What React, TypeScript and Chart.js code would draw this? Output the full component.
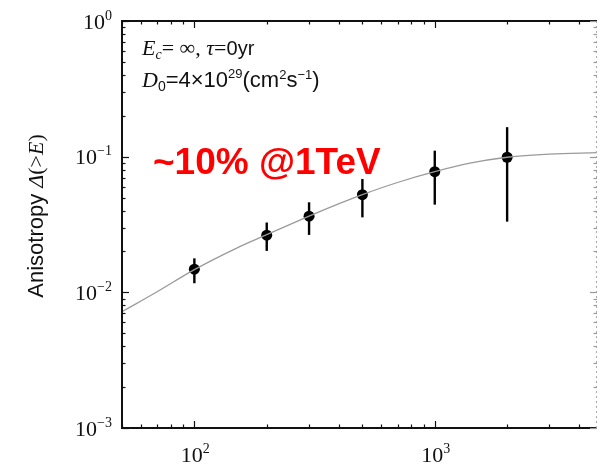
import React, { useEffect, useRef } from "react";
import { Chart, registerables } from "chart.js";

Chart.register(...registerables);

// ---- data ----
const energies = [100, 200, 300, 500, 1000, 2000];
const anisotropy = [0.0148, 0.0264, 0.0364, 0.0525, 0.0775, 0.099];
const errLow = [0.01167, 0.0202, 0.0265, 0.0357, 0.0443, 0.0332];
const errHigh = [0.0178, 0.0327, 0.0461, 0.0685, 0.1107, 0.165];

const curveEnergies = [50, 70, 100, 150, 200, 300, 400, 500, 700, 1000, 1400, 2000, 3000, 4730];
const curveAnisotropy = [0.0072, 0.0101, 0.0147, 0.0212, 0.0266, 0.0364, 0.045, 0.0525, 0.0645, 0.0775, 0.0895, 0.099, 0.1045, 0.107];

const xMin = 50;
const xMax = 4730;
const yMin = 1e-3;
const yMax = 1;
const xMajorExps = [2, 3];
const yMajorExps = [-3, -2, -1, 0];

const annotation = "~10% @1TeV";
const yTitleMain = "Anisotropy ";

type Run = { text: string; font: string; dy?: number };

function drawRuns(ctx: CanvasRenderingContext2D, runs: Run[], x: number, y: number, draw = true): number {
  let cx = x;
  for (const r of runs) {
    ctx.font = r.font;
    if (draw) ctx.fillText(r.text, cx, y + (r.dy || 0));
    cx += ctx.measureText(r.text).width;
  }
  return cx - x;
}

const SERIF = '"Liberation Serif", "Times New Roman", serif';
const SANS = '"Liberation Sans", Arial, sans-serif';

const powRuns = (exp: number): Run[] => [
  { text: "10", font: `22px ${SERIF}` },
  { text: exp < 0 ? "\u2212" + Math.abs(exp) : String(exp), font: `14px ${SERIF}`, dy: -9 },
];

const decorPlugin = {
  id: "decor",
  beforeDatasetsDraw(chart: any) {
    const { ctx, scales } = chart;
    const xs = scales.x;
    const ys = scales.y;
    ctx.save();
    ctx.strokeStyle = "#000";
    ctx.lineWidth = 2.4;
    energies.forEach((e, i) => {
      const px = xs.getPixelForValue(e);
      ctx.beginPath();
      ctx.moveTo(px, ys.getPixelForValue(errLow[i]));
      ctx.lineTo(px, ys.getPixelForValue(errHigh[i]));
      ctx.stroke();
    });
    ctx.restore();
  },
  afterDraw(chart: any) {
    const { ctx, scales, chartArea } = chart;
    const xs = scales.x;
    const ys = scales.y;
    const { left, right, top, bottom } = chartArea;
    ctx.save();
    // frame
    ctx.strokeStyle = "#111";
    ctx.lineWidth = 2;
    ctx.beginPath();
    ctx.moveTo(right, top);
    ctx.lineTo(left, top);
    ctx.lineTo(left, bottom);
    ctx.lineTo(right, bottom);
    ctx.stroke();
    ctx.strokeStyle = "#aaa";
    ctx.lineWidth = 1;
    ctx.setLineDash([2, 3]);
    ctx.beginPath();
    ctx.moveTo(right - 0.5, top);
    ctx.lineTo(right - 0.5, bottom);
    ctx.stroke();
    ctx.setLineDash([]);

    // ticks
    ctx.strokeStyle = "#111";
    ctx.lineWidth = 1.2;
    for (let d = 1; d <= 3; d++) {
      for (let m = 1; m <= 9; m++) {
        const v = m * Math.pow(10, d);
        if (v < xMin || v > xMax) continue;
        const px = Math.round(xs.getPixelForValue(v)) + 0.5;
        const len = m === 1 ? 7 : 3.5;
        ctx.beginPath();
        ctx.moveTo(px, bottom);
        ctx.lineTo(px, bottom - len);
        ctx.moveTo(px, top);
        ctx.lineTo(px, top + len);
        ctx.stroke();
      }
    }
    for (let d = -3; d <= 0; d++) {
      for (let m = 1; m <= 9; m++) {
        const v = m * Math.pow(10, d);
        if (v < yMin || v > yMax) continue;
        const py = Math.round(ys.getPixelForValue(v)) + 0.5;
        const len = m === 1 ? 7 : 3.5;
        ctx.strokeStyle = "#111";
        ctx.beginPath();
        ctx.moveTo(left, py);
        ctx.lineTo(left + len, py);
        ctx.stroke();
        ctx.strokeStyle = "#999";
        ctx.beginPath();
        ctx.moveTo(right, py);
        ctx.lineTo(right - len, py);
        ctx.stroke();
      }
    }

    // tick labels
    ctx.fillStyle = "#111";
    ctx.textBaseline = "alphabetic";
    ctx.textAlign = "left";
    yMajorExps.forEach((e) => {
      const py = ys.getPixelForValue(Math.pow(10, e));
      const runs = powRuns(e);
      const w = drawRuns(ctx, runs, 0, 0, false);
      drawRuns(ctx, runs, 112 - w, py + 7.5);
    });
    xMajorExps.forEach((e) => {
      const px = xs.getPixelForValue(Math.pow(10, e));
      const runs = powRuns(e);
      const w = drawRuns(ctx, runs, 0, 0, false);
      drawRuns(ctx, runs, px - w / 2 + 1, 462);
    });

    // y title
    ctx.save();
    ctx.translate(37, 216);
    ctx.rotate(-Math.PI / 2);
    const titleRuns: Run[] = [
      { text: yTitleMain, font: `22px ${SANS}` },
      { text: "\u0394", font: `italic 22px ${SERIF}` },
      { text: "(>", font: `22px ${SERIF}` },
      { text: "E", font: `italic 22px ${SERIF}` },
      { text: ")", font: `22px ${SERIF}` },
    ];
    const tw = drawRuns(ctx, titleRuns, 0, 0, false);
    ctx.textBaseline = "middle";
    drawRuns(ctx, titleRuns, -tw / 2, 0);
    ctx.restore();

    // inset text
    ctx.textBaseline = "alphabetic";
    ctx.fillStyle = "#111";
    drawRuns(ctx, [
      { text: "E", font: `italic 22px ${SERIF}` },
      { text: "c", font: `italic 14px ${SERIF}`, dy: 4 },
      { text: "= \u221E, ", font: `22px ${SERIF}` },
      { text: "\u03C4", font: `italic 22px ${SERIF}` },
      { text: "=", font: `22px ${SERIF}` },
      { text: "0yr", font: `20px ${SANS}` },
    ], 142, 55);
    drawRuns(ctx, [
      { text: "D", font: `italic 22px ${SERIF}` },
      { text: "0", font: `14px ${SANS}`, dy: 4 },
      { text: "=4\u00D710", font: `22px ${SANS}` },
      { text: "29", font: `13px ${SANS}`, dy: -9 },
      { text: "(cm", font: `22px ${SANS}` },
      { text: "2", font: `13px ${SANS}`, dy: -8 },
      { text: "s", font: `22px ${SANS}` },
      { text: "\u22121", font: `13px ${SANS}`, dy: -8 },
      { text: ")", font: `22px ${SANS}` },
    ], 142, 87);

    // red annotation
    ctx.fillStyle = "#ff0000";
    ctx.font = `bold 37px ${SANS}`;
    ctx.fillText(annotation, 153, 174);
    ctx.restore();
  },
};

export default function App() {
  const ref = useRef<HTMLCanvasElement | null>(null);
  useEffect(() => {
    if (!ref.current) return;
    const chart = new Chart(ref.current, {
      type: "scatter",
      data: {
        datasets: [
          {
            type: "line",
            data: curveEnergies.map((e, i) => ({ x: e, y: curveAnisotropy[i] })),
            borderColor: "#9a9a9a",
            borderWidth: 1.3,
            pointRadius: 0,
            cubicInterpolationMode: "monotone",
            fill: false,
          } as any,
          {
            data: energies.map((e, i) => ({ x: e, y: anisotropy[i] })),
            pointRadius: 5.5,
            pointBackgroundColor: "#000",
            pointBorderColor: "#000",
            pointBorderWidth: 0,
          },
        ],
      },
      options: {
        animation: false,
        responsive: false,
        layout: { autoPadding: false, padding: { left: 122, right: 2, top: 21, bottom: 37 } },
        plugins: { legend: { display: false }, tooltip: { enabled: false } },
        scales: {
          x: {
            type: "logarithmic",
            min: xMin,
            max: xMax,
            ticks: { display: false },
            grid: { display: false },
            border: { display: false },
            afterFit: (s: any) => { s.height = 0; },
          },
          y: {
            type: "logarithmic",
            min: yMin,
            max: yMax,
            ticks: { display: false },
            grid: { display: false },
            border: { display: false },
            afterFit: (s: any) => { s.width = 0; },
          },
        },
      } as any,
      plugins: [decorPlugin],
    });
    return () => chart.destroy();
  }, []);
  return (
    <div style={{ position: "fixed", left: 0, top: 0, width: 599, height: 465, background: "#fff" }}>
      <canvas ref={ref} width={599} height={465} />
    </div>
  );
}
